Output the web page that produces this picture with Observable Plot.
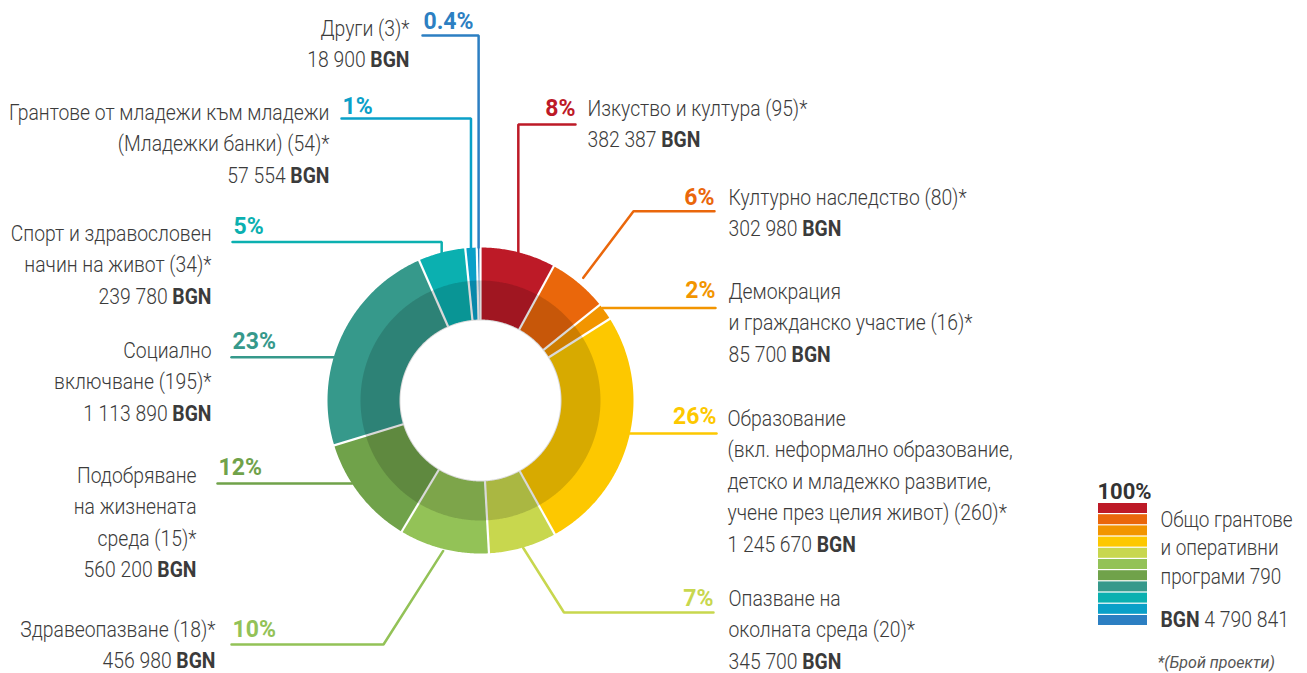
<!DOCTYPE html>
<html><head><meta charset="utf-8">
<script src="https://cdn.jsdelivr.net/npm/d3@7"></script>
<script src="https://cdn.jsdelivr.net/npm/@observablehq/plot@0.6"></script>
<style>html,body{margin:0;padding:0;background:#fff}#chart svg{display:block}</style>
</head><body><div id="chart"></div>
<script>
// ---------- DATA ----------
const names = [
  "Изкуство и култура",
  "Културно наследство",
  "Демокрация\nи гражданско участие",
  "Образование\n(вкл. неформално образование,\nдетско и младежко развитие,\nучене през целия живот)",
  "Опазване на\nоколната среда",
  "Здравеопазване",
  "Подобряване\nна жизнената\nсреда",
  "Социално\nвключване",
  "Спорт и здравословен\nначин на живот",
  "Грантове от младежи към младежи\n(Младежки банки)",
  "Други"
];
const projects = [95, 80, 16, 260, 20, 18, 15, 195, 34, 54, 3];
const amounts = [382387, 302980, 85700, 1245670, 345700, 456980, 560200, 1113890, 239780, 57554, 18900];
const shares = ["8%", "6%", "2%", "26%", "7%", "10%", "12%", "23%", "5%", "1%", "0.4%"];
const colors = ["#bd1a27", "#ea670b", "#f29500", "#fdc800", "#c8d74e", "#93c257", "#70a24a", "#36998b", "#0bb0b0", "#0aa0c8", "#2c7fc2"];
const legendTop = "100%";
const legendText = "Общо грантове\nи оперативни\nпрограми 790";
const legendTotal = "BGN 4 790 841";
const footnote = "*(Брой проекти)";

// ---------- LAYOUT ----------
const W = 1307, H = 673;
const cx = 480, cy = 400, R = 153, RB = 120, R0 = 81;
const FONT = "Roboto, 'Noto Sans', sans-serif";
const FS = 22, LH = 31.6;
const ctx = document.createElement("canvas").getContext("2d");
ctx.font = `300 ${FS}px Roboto`;
const SX = 220 / ctx.measureText("Изкуство и култура (95)*").width;

const layout = [
  {side: "R", type: "v", ly: 124,   end: 575, tx: 587, tb: 115, pb: 115},
  {side: "R", type: "d", ly: 210.7, ex: 633, rs: 160, end: 714, tx: 728, tb: 204, pb: 204},
  {side: "R", type: "h", ly: 307.5, end: 715, tx: 728, tb: 298, pb: 297},
  {side: "R", type: "h", ly: 433,   end: 716, tx: 727, tb: 425, pb: 423},
  {side: "R", type: "d", ly: 612,   ex: 563.5, rs: 153, end: 713, tx: 728, tb: 605, pb: 605},
  {side: "L", type: "d", ly: 644,   ex: 383, rs: 155, end: 231, tx: 215, tb: 636, pb: 636},
  {side: "L", type: "h", ly: 483,   end: 217, tx: 196, tb: 482, pb: 474},
  {side: "L", type: "h", ly: 356.7, end: 231, tx: 211, tb: 357, pb: 348},
  {side: "L", type: "v", ly: 241.5, end: 232, tx: 211, tb: 240, pb: 233},
  {side: "L", type: "v", ly: 118,   end: 341, tx: 329, tb: 119, pb: 113},
  {side: "L", type: "v", ly: 35,    end: 422, tx: 409, tb: 35,  pb: 28}
];

// ---------- GEOMETRY ----------
const total = d3.sum(amounts);
let acc = 0;
const slices = amounts.map((v, i) => {
  const a0 = acc / total * 2 * Math.PI; acc += v;
  const a1 = acc / total * 2 * Math.PI;
  return {i, a0, a1, mid: (a0 + a1) / 2};
});
const pt = (r, a) => ({x: cx + r * Math.sin(a), y: cy - r * Math.cos(a)});
function ringPts(ra, rb, a0, a1) {
  const n = Math.max(2, Math.ceil((a1 - a0) / (Math.PI / 360)));
  const p = [];
  for (let k = 0; k <= n; k++) p.push(pt(rb, a0 + (a1 - a0) * k / n));
  for (let k = n; k >= 0; k--) p.push(pt(ra, a0 + (a1 - a0) * k / n));
  return p;
}
const fmt = d3.formatLocale({decimal: ",", thousands: " ", grouping: [3], currency: ["", ""]}).format(",");

function leader(i) {
  const L = layout[i], s = slices[i];
  if (L.type === "h") {
    const dy = L.ly - cy, dx = Math.sqrt(R * R - dy * dy);
    return [{x: cx + (L.side === "R" ? dx : -dx), y: L.ly}, {x: L.end, y: L.ly}];
  }
  if (L.type === "v") {
    const sx = pt(R, s.mid).x, dx = sx - cx;
    return [{x: sx, y: cy - Math.sqrt(R * R - dx * dx)}, {x: sx, y: L.ly}, {x: L.end, y: L.ly}];
  }
  return [pt(L.rs, s.mid), {x: L.ex, y: L.ly}, {x: L.end, y: L.ly}];
}

// ---------- MARKS ----------
const marks = [];
slices.forEach(s => marks.push(Plot.line(ringPts(R0, R, s.a0, s.a1), {x: "x", y: "y", fill: colors[s.i], stroke: "none", curve: "linear-closed"})));
marks.push(Plot.link(slices, {
  x1: d => pt(R0 - 1, d.a0).x, y1: d => pt(R0 - 1, d.a0).y,
  x2: d => pt(R + 1, d.a0).x, y2: d => pt(R + 1, d.a0).y,
  stroke: "white", strokeWidth: 2.2
}));
{
  const p = [];
  const n = 720;
  for (let k = 0; k <= n; k++) p.push(pt(RB, 2 * Math.PI * k / n));
  for (let k = n; k >= 0; k--) p.push(pt(R0 - 1, 2 * Math.PI * k / n));
  marks.push(Plot.line(p, {x: "x", y: "y", fill: "black", fillOpacity: 0.15, stroke: "none", curve: "linear-closed"}));
}
layout.forEach((L, i) => {
  marks.push(Plot.line(leader(i), {x: "x", y: "y", stroke: colors[i], strokeWidth: 2.5, strokeLinejoin: "miter"}));
  marks.push(Plot.text([i], {
    x: () => L.end + (L.side === "R" ? 0 : 1), y: () => L.pb, text: d => shares[d],
    textAnchor: L.side === "R" ? "end" : "start", lineAnchor: "bottom",
    fill: colors[i], fontWeight: "bold", fontSize: 23
  }));
  const txt = `${names[i]} (${projects[i]})*\n${fmt(amounts[i])} BGN`;
  const n = txt.split("\n").length;
  marks.push(Plot.text([txt], {
    x: () => L.tx, y: () => L.tb + (n - 1) * LH, text: d => d,
    textAnchor: L.side === "R" ? "start" : "end", lineAnchor: "bottom",
    lineHeight: LH / FS, fill: "#3b3b3b", fontSize: FS, fontWeight: 300
  }));
});
const lg = colors.map((c, i) => ({c, i}));
marks.push(Plot.rect(lg, {x1: 1098, x2: 1147, y1: d => 503 + d.i * 11.2, y2: d => 503 + d.i * 11.2 + 10, fill: d => d.c}));
marks.push(Plot.text([legendTop], {x: () => 1097, y: () => 498, text: d => d, textAnchor: "start", lineAnchor: "bottom", fontWeight: "bold", fontSize: 22, fill: "#333"}));
marks.push(Plot.text([legendText], {x: () => 1160, y: () => 583, text: d => d, textAnchor: "start", lineAnchor: "bottom", lineHeight: 27.5 / 21, fontSize: 21.5, fontWeight: 300, fill: "#3b3b3b"}));
marks.push(Plot.text([legendTotal], {x: () => 1160, y: () => 626, text: d => d, textAnchor: "start", lineAnchor: "bottom", fontSize: 22, fontWeight: 300, fill: "#3b3b3b"}));
marks.push(Plot.text([footnote], {x: () => 1157, y: () => 667, text: d => d, textAnchor: "start", lineAnchor: "bottom", fontSize: 16, fontWeight: 400, fontStyle: "italic", fill: "#555"}));

const chart = Plot.plot({
  width: W, height: H,
  margin: 0, marginTop: 0, marginRight: 0, marginBottom: 0, marginLeft: 0,
  x: {domain: [0, W], range: [0, W], axis: null},
  y: {domain: [0, H], range: [0, H], axis: null},
  color: {type: "identity"},
  style: {fontFamily: FONT, background: "white", overflow: "visible"},
  marks
});
const ns = "http://www.w3.org/2000/svg";
chart.querySelectorAll("text, tspan").forEach(el => {
  if (el.children.length) return;
  const t = el.textContent;
  if (t.endsWith(" BGN")) {
    el.textContent = t.slice(0, -3);
    const b = document.createElementNS(ns, "tspan");
    b.setAttribute("font-weight", "bold"); b.textContent = "BGN"; el.appendChild(b);
  } else if (t.startsWith("BGN ")) {
    el.textContent = "";
    const b = document.createElementNS(ns, "tspan");
    b.setAttribute("font-weight", "bold"); b.textContent = "BGN"; el.appendChild(b);
    el.appendChild(document.createTextNode(t.slice(3)));
  }
});
chart.querySelectorAll("g[font-weight='300'] > text").forEach(el => {
  const tr = el.getAttribute("transform") || "";
  el.setAttribute("transform", `${tr} scale(${SX},1)`);
});
document.getElementById("chart").appendChild(chart);
</script></body></html>
